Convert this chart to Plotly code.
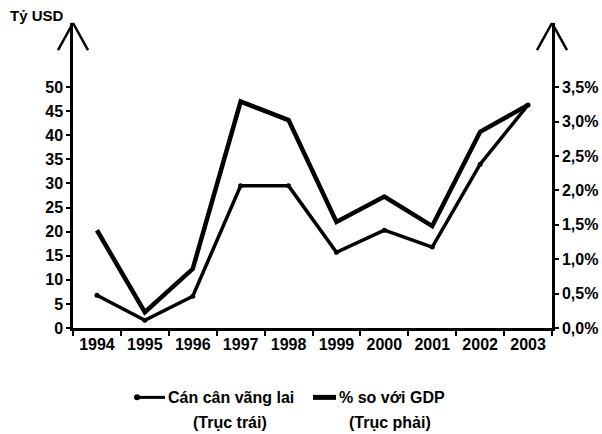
import plotly.graph_objects as go

years = ["1994", "1995", "1996", "1997", "1998", "1999", "2000", "2001", "2002", "2003"]
current_account = [6.8, 1.6, 6.6, 29.5, 29.5, 15.7, 20.3, 16.8, 34.0, 46.3]   # Tỷ USD, left axis
pct_gdp = [1.42, 0.23, 0.86, 3.29, 3.02, 1.54, 1.91, 1.48, 2.85, 3.24]        # %, right axis
left_ticks = [0, 5, 10, 15, 20, 25, 30, 35, 40, 45, 50]
right_ticks = [0.0, 0.5, 1.0, 1.5, 2.0, 2.5, 3.0, 3.5]
right_ticktext = ["0,0%", "0,5%", "1,0%", "1,5%", "2,0%", "2,5%", "3,0%", "3,5%"]

FONT = "Liberation Sans, Arial, sans-serif"
W, H = 602, 434
L, R = 73, 552          # pixel x of left / right axes
TOP, BASE = 23, 327.7   # pixel y of plot top / baseline
LMAX = 63.3
RMAX = LMAX * 0.07

def px(X):
    return (X - L) / (R - L)

def py(Y):
    return (BASE - Y) / (BASE - TOP)

fig = go.Figure()
fig.add_trace(go.Scatter(
    x=years, y=current_account, mode="lines+markers",
    line=dict(color="black", width=3.5), marker=dict(color="black", size=5),
    name="Cán cân vãng lai", yaxis="y"))
fig.add_trace(go.Scatter(
    x=years, y=pct_gdp, mode="lines",
    line=dict(color="black", width=4.5), name="% so với GDP", yaxis="y2"))

tickfont = dict(family=FONT, size=16, color="black", weight="bold")
fig.update_layout(
    width=W, height=H,
    margin=dict(l=L, r=W - R, t=TOP, b=H - BASE),
    paper_bgcolor="white", plot_bgcolor="white",
    showlegend=False,
    font=dict(family=FONT, color="black"),
    xaxis=dict(type="category", range=[-0.5, 9.5], tickson="boundaries",
               ticks="outside", ticklen=5, tickwidth=2, tickcolor="black",
               tickangle=0, automargin=False,
               showline=True, linecolor="black", linewidth=2.5,
               showgrid=False, zeroline=False, tickfont=tickfont),
    yaxis=dict(range=[0, LMAX], tickmode="array", tickvals=left_ticks,
               ticks="outside", ticklen=4, tickwidth=1.5, tickcolor="black",
               automargin=False,
               showline=True, linecolor="black", linewidth=2.5,
               showgrid=False, zeroline=False, tickfont=tickfont),
    yaxis2=dict(range=[0, RMAX], overlaying="y", side="right",
                tickmode="array", tickvals=right_ticks, ticktext=right_ticktext,
                ticks="outside", ticklen=4, tickwidth=1.5, tickcolor="black",
                automargin=False,
                showline=True, linecolor="black", linewidth=2.5,
                showgrid=False, zeroline=False, tickfont=tickfont),
)

# arrow heads on top of both axes
shapes = []
for X in (L, R):
    tip = (px(X), py(TOP))
    for dx in (-15, 15):
        shapes.append(dict(type="line", xref="paper", yref="paper",
                           x0=tip[0], y0=tip[1], x1=px(X + dx), y1=py(TOP + 27),
                           line=dict(color="black", width=2.5)))
# legend swatches
shapes.append(dict(type="line", xref="paper", yref="paper",
                   x0=px(137), y0=py(397), x1=px(165), y1=py(397),
                   line=dict(color="black", width=3)))
shapes.append(dict(type="circle", xref="paper", yref="paper",
                   x0=px(134), y0=py(394), x1=px(140), y1=py(400),
                   fillcolor="black", line=dict(color="black", width=0)))
shapes.append(dict(type="line", xref="paper", yref="paper",
                   x0=px(313), y0=py(397), x1=px(336), y1=py(397),
                   line=dict(color="black", width=5)))
fig.update_layout(shapes=shapes)

annots = [
    dict(text="Tỷ USD", x=px(8), y=py(16), xanchor="left", size=15),
    dict(text="Cán cân vãng lai", x=px(166), y=py(397), xanchor="left", size=16),
    dict(text="% so với GDP", x=px(337), y=py(397), xanchor="left", size=16),
    dict(text="(Trục trái)", x=px(230), y=py(422), xanchor="center", size=16),
    dict(text="(Trục phải)", x=px(390), y=py(422), xanchor="center", size=16),
]
for a in annots:
    fig.add_annotation(text=a["text"], x=a["x"], y=a["y"], xref="paper", yref="paper",
                       xanchor=a["xanchor"], yanchor="middle", showarrow=False,
                       font=dict(family=FONT, size=a["size"], color="black", weight="bold"))

fig.write_html("out.html", config={"displayModeBar": False},
               post_script="document.body.style.margin='0';document.body.style.overflow='hidden';")
